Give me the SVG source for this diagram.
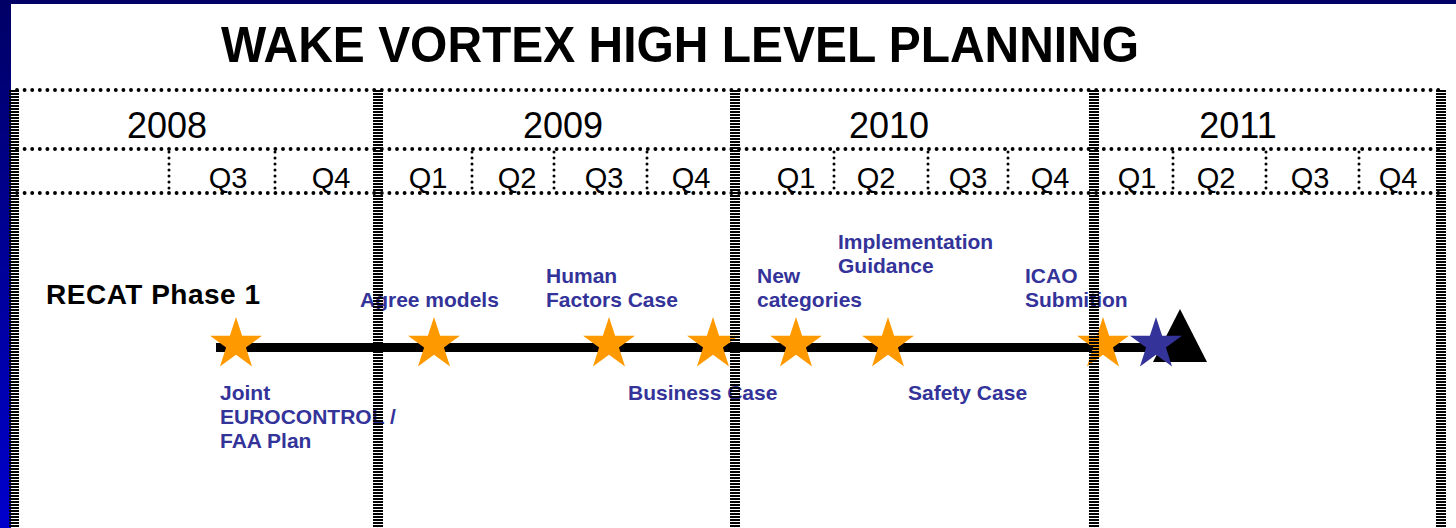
<svg xmlns="http://www.w3.org/2000/svg" width="1456" height="528" viewBox="0 0 1456 528">
  <defs>
    <linearGradient id="frameGrad" x1="0" y1="0" x2="0" y2="1">
      <stop offset="0" stop-color="#000066"/>
      <stop offset="1" stop-color="#0000CC"/>
    </linearGradient>
    <polygon id="star" points="0,-27.3 6.13,-8.44 25.96,-8.44 9.92,3.22 16.05,22.09 0,10.43 -16.05,22.09 -9.92,3.22 -25.96,-8.44 -6.13,-8.44"/>
    <style>
      .title { font-family: "Liberation Sans", Arial, sans-serif; font-weight: bold; font-size: 50px; fill: #000; }
      .year { font-family: "Liberation Sans", Arial, sans-serif; font-size: 36px; fill: #000; text-anchor: middle; }
      .qtr { font-family: "Liberation Sans", Arial, sans-serif; font-size: 29px; fill: #000; text-anchor: middle; }
      .phase { font-family: "Liberation Sans", Arial, sans-serif; font-weight: bold; font-size: 28px; fill: #000; }
      .lbl { font-family: "Liberation Sans", Arial, sans-serif; font-weight: bold; font-size: 21px; fill: #333399; }
      .hdot { stroke: #000; stroke-width: 3.9; stroke-linecap: round; stroke-dasharray: 0 7.6; fill: none; }
      .qdot { stroke: #000; stroke-width: 3; stroke-linecap: round; stroke-dasharray: 0 6; fill: none; }
      .sep { stroke: #000; stroke-width: 10; stroke-dasharray: 2 1; fill: none; shape-rendering: crispEdges; }
      .bar { stroke: #000; stroke-width: 9; fill: none; }
      .ms { fill: #FF9900; }
      .msEnd { fill: #333399; }
    </style>
  </defs>

  <!-- slide frame -->
  <rect x="0" y="0" width="1456" height="528" fill="url(#frameGrad)"/>
  <rect x="11" y="4" width="1445" height="524" fill="#FFFFFF"/>

  <text class="title" x="221" y="62" textLength="918" lengthAdjust="spacingAndGlyphs">WAKE VORTEX HIGH LEVEL PLANNING</text>

  <!-- calendar grid -->
  <g id="grid">
    <line class="hdot" x1="17" y1="90" x2="1441" y2="90"/>
    <line class="hdot" x1="17" y1="149" x2="1441" y2="149"/>
    <line class="hdot" x1="17" y1="193" x2="1441" y2="193"/>
    <g id="quarter-dividers">
      <line class="qdot" x1="169" y1="152" x2="169" y2="192"/>
      <line class="qdot" x1="275" y1="152" x2="275" y2="192"/>
      <line class="qdot" x1="472" y1="152" x2="472" y2="192"/>
      <line class="qdot" x1="554" y1="152" x2="554" y2="192"/>
      <line class="qdot" x1="647" y1="152" x2="647" y2="192"/>
      <line class="qdot" x1="834" y1="152" x2="834" y2="192"/>
      <line class="qdot" x1="928" y1="152" x2="928" y2="192"/>
      <line class="qdot" x1="1008" y1="152" x2="1008" y2="192"/>
      <line class="qdot" x1="1173" y1="152" x2="1173" y2="192"/>
      <line class="qdot" x1="1266" y1="152" x2="1266" y2="192"/>
      <line class="qdot" x1="1359" y1="152" x2="1359" y2="192"/>
    </g>
    <g id="years">
      <text class="year" x="167" y="138">2008</text>
      <text class="year" x="563" y="138">2009</text>
      <text class="year" x="889" y="138">2010</text>
      <text class="year" x="1238" y="138">2011</text>
    </g>
    <g id="quarters">
      <text class="qtr" x="228" y="188">Q3</text>
      <text class="qtr" x="331" y="188">Q4</text>
      <text class="qtr" x="428" y="188">Q1</text>
      <text class="qtr" x="517" y="188">Q2</text>
      <text class="qtr" x="604" y="188">Q3</text>
      <text class="qtr" x="691" y="188">Q4</text>
      <text class="qtr" x="796" y="188">Q1</text>
      <text class="qtr" x="876" y="188">Q2</text>
      <text class="qtr" x="968" y="188">Q3</text>
      <text class="qtr" x="1050" y="188">Q4</text>
      <text class="qtr" x="1137" y="188">Q1</text>
      <text class="qtr" x="1216" y="188">Q2</text>
      <text class="qtr" x="1310" y="188">Q3</text>
      <text class="qtr" x="1398" y="188">Q4</text>
    </g>
  </g>

  <text class="phase" x="46" y="304" textLength="214" lengthAdjust="spacing">RECAT Phase 1</text>

  <!-- timeline bar -->
  <g id="connectors">
    <line class="bar" x1="216" y1="347.5" x2="1185" y2="347.5"/>
  </g>

  <!-- milestones -->
  <g id="m-joint-plan">
    <use href="#star" class="ms" x="236" y="344.3"/>
    <text class="lbl" x="220" y="400">Joint</text>
    <text class="lbl" x="220" y="424">EUROCONTROL /</text>
    <text class="lbl" x="220" y="448">FAA Plan</text>
  </g>
  <g id="m-agree-models">
    <use href="#star" class="ms" x="434" y="344.3"/>
    <text class="lbl" x="360" y="307">Agree models</text>
  </g>
  <g id="m-human-factors">
    <use href="#star" class="ms" x="609" y="344.3"/>
    <text class="lbl" x="546" y="283">Human</text>
    <text class="lbl" x="546" y="307">Factors Case</text>
  </g>
  <g id="m-business-case">
    <use href="#star" class="ms" x="713" y="344.3"/>
    <text class="lbl" x="628" y="400">Business Case</text>
  </g>
  <g id="m-new-categories">
    <use href="#star" class="ms" x="796" y="344.3"/>
    <text class="lbl" x="757" y="283">New</text>
    <text class="lbl" x="757" y="307">categories</text>
  </g>
  <g id="m-implementation">
    <use href="#star" class="ms" x="888" y="344.3"/>
    <text class="lbl" x="838" y="249">Implementation</text>
    <text class="lbl" x="838" y="273">Guidance</text>
  </g>
  <g id="m-safety-case">
    <text class="lbl" x="908" y="400">Safety Case</text>
  </g>
  <g id="m-icao">
    <use href="#star" class="ms" x="1103" y="344.3"/>
    <text class="lbl" x="1025" y="283">ICAO</text>
    <text class="lbl" x="1025" y="307">Submition</text>
  </g>
  <g id="m-end">
    <polygon points="1180,309 1207,362 1153,362" fill="#000"/>
    <use href="#star" class="msEnd" x="1156" y="344.3"/>
  </g>

  <!-- year separators, drawn over the timeline -->
  <g id="year-separators">
    <line class="sep" x1="14" y1="90" x2="14" y2="528"/>
    <line class="sep" x1="378" y1="90" x2="378" y2="528"/>
    <line class="sep" x1="735" y1="90" x2="735" y2="528"/>
    <line class="sep" x1="1094" y1="90" x2="1094" y2="528"/>
    <line class="sep" x1="1441" y1="90" x2="1441" y2="528"/>
  </g>
</svg>
